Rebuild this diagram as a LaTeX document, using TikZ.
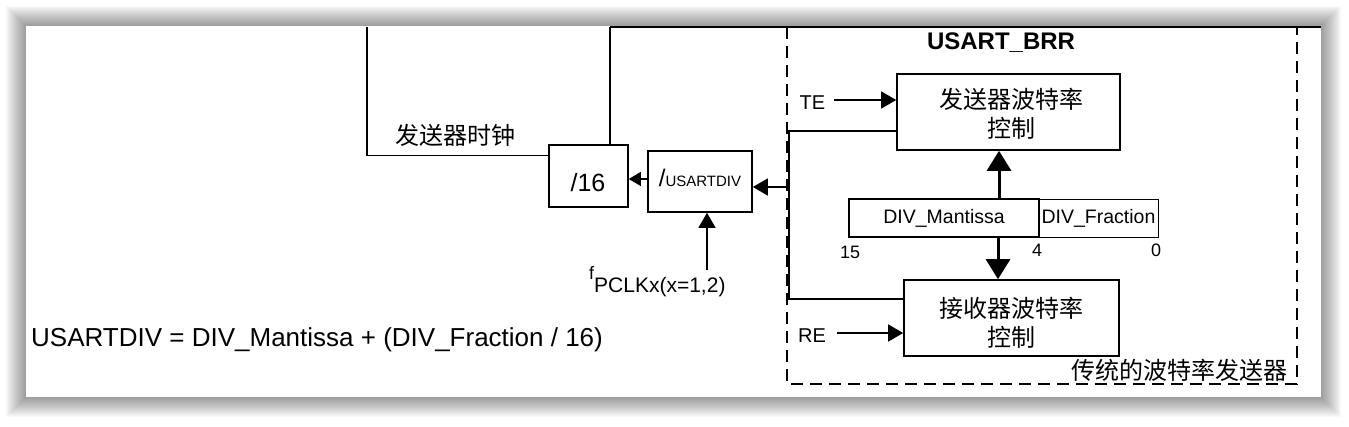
\documentclass[tikz,border=0pt]{standalone}
\usepackage{fontspec}
\setmainfont{Liberation Sans}
\newfontfamily\cjk{Noto Sans CJK SC}
\usetikzlibrary{arrows.meta,calc}
\begin{document}
\begin{tikzpicture}[x=1pt,y=-1pt,
  blk/.style={draw,line width=1.6pt,inner sep=0pt},
  thinblk/.style={draw,line width=1pt,inner sep=0pt},
  wire/.style={line width=1.3pt},
  arr/.style={wire,-{Triangle[length=15pt,width=17pt]}},
  sarr/.style={wire,-{Triangle[length=12pt,width=14pt]}},
  barr/.style={line width=3pt,-{Triangle[length=20pt,width=24pt]}},
  lbl/.style={inner sep=0pt,font=\fontsize{20}{24}\selectfont},
  zh/.style={inner sep=0pt,font=\cjk\fontsize{24}{29}\selectfont,align=center},
  dashbox/.style={line width=1.8pt,dash pattern=on 12pt off 7pt}]
\useasboundingbox (0,0) rectangle (1349,426);
% card shadow
\foreach \i in {1,...,20}
  \fill[black,opacity=0.022] (26-\i,26-\i) rectangle (1321+\i,397+\i);
\fill[white] (26,26) rectangle (1321,397);

% blocks
\node[blk,minimum width=79pt,minimum height=62pt] (d16) at (588.5,176) {};
\node[inner sep=0pt,font=\fontsize{25}{25}\selectfont] (d16t) at (588,183) {/16};
\node[blk,minimum width=104pt,minimum height=61pt] (udiv) at (700,181.5) {};
\node[inner sep=0pt] (udivt) at (700,178) {{\fontsize{24}{24}\selectfont/}{\fontsize{15}{15}\selectfont USARTDIV}};
\node[blk,minimum width=223pt,minimum height=76pt] (txc) at (1008.5,112) {};
\node[zh] (txct) at (1011,114) {发送器波特率\\控制};
\node[blk,minimum width=215pt,minimum height=76pt] (rxc) at (1011.5,318) {};
\node[zh] (rxct) at (1011,323) {接收器波特率\\控制};
\node[blk,minimum width=190pt,minimum height=38pt,font=\fontsize{19.5}{20}\selectfont] (mant) at (944,218) {DIV\_Mantissa};
\node[thinblk,minimum width=119pt,minimum height=38pt,font=\fontsize{19.5}{20}\selectfont] (frac) at (1098.5,218) {DIV\_Fraction};
\node[inner sep=0pt,font=\fontsize{18}{18}\selectfont] (b15) at (850,252) {15};
\node[inner sep=0pt,font=\fontsize{18}{18}\selectfont] (b4) at (1037,250) {4};
\node[inner sep=0pt,font=\fontsize{18}{18}\selectfont] (b0) at (1156,250) {0};

% labels
\node[inner sep=0pt,font=\bfseries\fontsize{24}{24}\selectfont] (brr) at (1001,43) {USART\_BRR};
\node[zh] (clk) at (455,135) {发送器时钟};
\node[zh] (trad) at (1179,370) {传统的波特率发送器};
\node[lbl] (te) at (812.5,102.5) {TE};
\node[lbl] (re) at (812,335.5) {RE};
\node[inner sep=0pt,anchor=base west,font=\fontsize{18}{18}\selectfont] (fpclk) at (589,279)
  {f\raisebox{-13pt}{\fontsize{21}{21}\selectfont PCLKx(x=1,2)}};
\node[inner sep=0pt,anchor=west,font=\fontsize{26}{26}\selectfont] (formula) at (31,340)
  {USARTDIV = DIV\_Mantissa + (DIV\_Fraction / 16)};

% dashed frame (top cut by the card edge)
\draw[dashbox] (787,27) -- (787,384) -- (1297,384) -- (1297,27);

% coordinates
\coordinate (tl) at (367,27);
\coordinate (tr) at (610,27);
\coordinate (te0) at (1321,27);
\coordinate (m179) at (640,179);
\coordinate (fp) at (707,270);
\coordinate (j1) at (789,131);
\coordinate (j2) at (789,299);
\coordinate (j3) at (789,187);
\coordinate (teS) at (834,100);
\coordinate (reS) at (837,333);
\coordinate (ax) at (999,0);
\coordinate (bx) at (998,0);

% wires
\draw[wire] (tl) -- (tl |- 0,155.5) -- (d16.west |- 0,155.5);
\draw[wire] (d16.north -| tr) -- (tr);
\draw[line width=2pt] (tr) -- (te0);
\draw[sarr] (udiv.west |- m179) -- (d16.east |- m179);
\draw[arr] (fp) -- (udiv.south -| fp);
\draw[wire] (txc.west |- j1) -- (j1) -- (j2) -- (rxc.west |- j2);
\draw[arr] (j3) -- (udiv.east |- j3);
\draw[arr] (teS) -- (txc.west |- teS);
\draw[arr] (reS) -- (rxc.west |- reS);
\draw[barr] (mant.north -| ax) -- (txc.south -| ax);
\draw[barr] (mant.south -| bx) -- (rxc.north -| bx);
\end{tikzpicture}
\end{document}
